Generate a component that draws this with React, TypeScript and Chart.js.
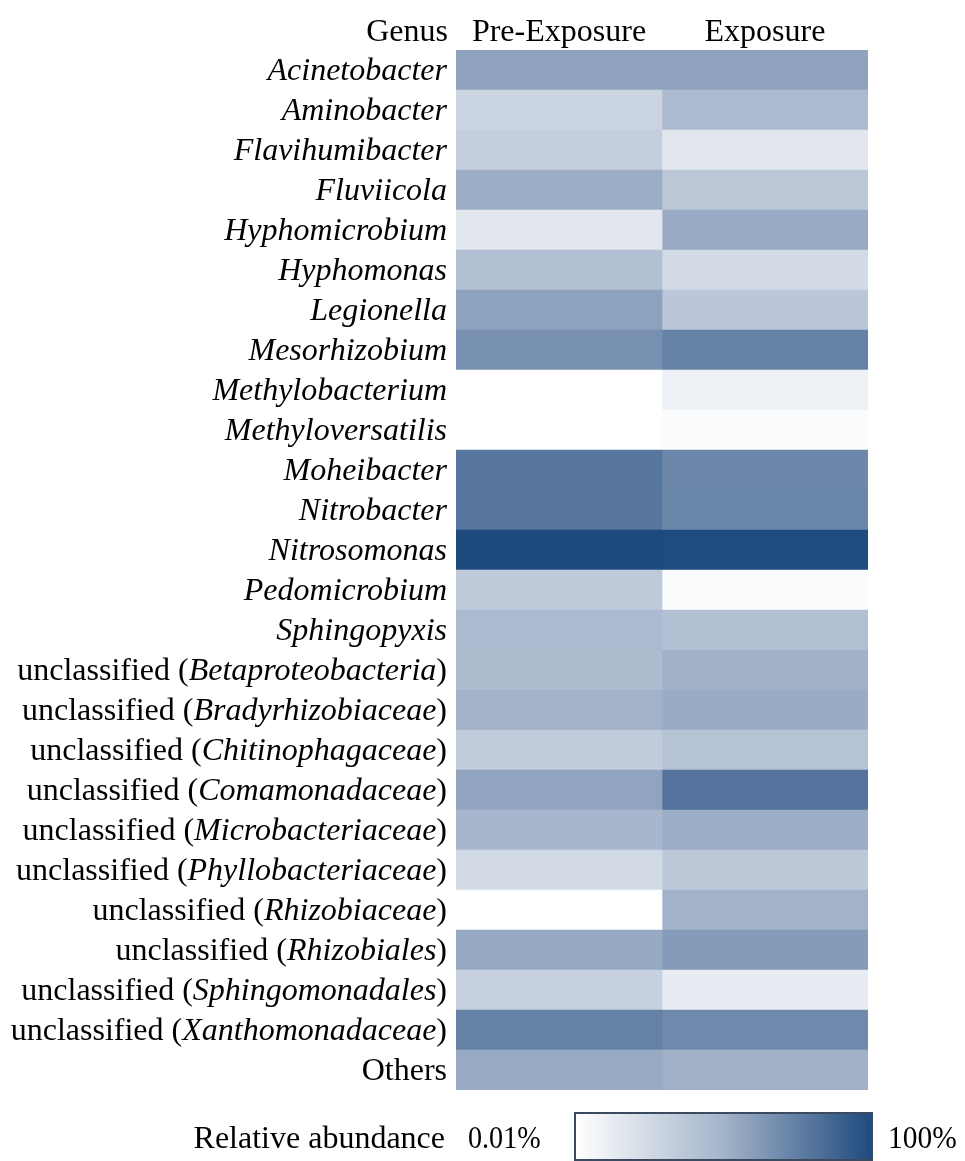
import { useEffect, useRef } from "react";
import { Chart, registerables } from "chart.js";

Chart.register(...registerables);

// ---- data ----
const headerLabel = "Genus";
const columns = ["Pre-Exposure", "Exposure"];
const genera = [
  "Acinetobacter",
  "Aminobacter",
  "Flavihumibacter",
  "Fluviicola",
  "Hyphomicrobium",
  "Hyphomonas",
  "Legionella",
  "Mesorhizobium",
  "Methylobacterium",
  "Methyloversatilis",
  "Moheibacter",
  "Nitrobacter",
  "Nitrosomonas",
  "Pedomicrobium",
  "Sphingopyxis",
  "unclassified (Betaproteobacteria)",
  "unclassified (Bradyrhizobiaceae)",
  "unclassified (Chitinophagaceae)",
  "unclassified (Comamonadaceae)",
  "unclassified (Microbacteriaceae)",
  "unclassified (Phyllobacteriaceae)",
  "unclassified (Rhizobiaceae)",
  "unclassified (Rhizobiales)",
  "unclassified (Sphingomonadales)",
  "unclassified (Xanthomonadaceae)",
  "Others",
];
// relative abundance (%) — log colour scale from 0.01% to 100%
const preExposure = [
  2.0, 0.136, 0.19, 1.28, 0.043, 0.45, 2.15, 4.66, 0.01, 0.01, 13.8, 14.5, 100,
  0.25, 0.61, 0.575, 1.04, 0.233, 1.94, 0.82, 0.095, 0.01, 1.51, 0.174, 8.71, 1.47,
];
const exposure = [
  2.0, 0.61, 0.043, 0.286, 1.47, 0.095, 0.3, 8.39, 0.0233, 0.0122, 6.92, 7.24, 95.5,
  0.0122, 0.45, 1.11, 1.37, 0.387, 16.3, 1.28, 0.273, 1.04, 2.86, 0.0316, 5.92, 1.11,
];
const scaleMinLabel = "0.01%";
const scaleMaxLabel = "100%";
const scaleTitle = "Relative abundance";
const scaleMin = 0.01;
const scaleMax = 100;

// ---- colour mapping ----
const stops: [number, number[]][] = [
  [0, [255, 255, 255]],
  [0.5, [163, 179, 202]],
  [1, [31, 74, 126]],
];
function colorAt(t: number) {
  t = Math.max(0, Math.min(1, t));
  for (let i = 1; i < stops.length; i++) {
    const [t1, c1] = stops[i];
    const [t0, c0] = stops[i - 1];
    if (t <= t1) {
      const u = (t - t0) / (t1 - t0);
      const c = c0.map((v, k) => Math.round(v + (c1[k] - v) * u));
      return `rgb(${c[0]},${c[1]},${c[2]})`;
    }
  }
  const c = stops[stops.length - 1][1];
  return `rgb(${c[0]},${c[1]},${c[2]})`;
}
function colorFor(pct: number) {
  const t =
    (Math.log10(pct) - Math.log10(scaleMin)) /
    (Math.log10(scaleMax) - Math.log10(scaleMin));
  return colorAt(t);
}

const values = [preExposure, exposure];
const FONT_SIZE = 32;
const FAMILY = '"Liberation Serif", "Times New Roman", serif';

function splitLabel(label: string): { text: string; italic: boolean }[] {
  const m = label.match(/^(unclassified \()(.+)(\))$/);
  if (m) {
    return [
      { text: m[1], italic: false },
      { text: m[2], italic: true },
      { text: m[3], italic: false },
    ];
  }
  if (label === "Others") return [{ text: label, italic: false }];
  return [{ text: label, italic: true }];
}

const labelPlugin = {
  id: "heatLabels",
  afterDraw(chart: any) {
    const { ctx, chartArea } = chart;
    const x = chart.scales.x;
    const y = chart.scales.y;
    const font = (it: boolean) => `${it ? "italic " : ""}${FONT_SIZE}px ${FAMILY}`;
    ctx.save();
    ctx.fillStyle = "#000";
    ctx.textBaseline = "alphabetic";
    // header
    ctx.font = font(false);
    ctx.textAlign = "right";
    ctx.fillText(headerLabel, chartArea.left - 8, chartArea.top - 9);
    ctx.textAlign = "center";
    columns.forEach((c, j) => {
      ctx.fillText(c, x.getPixelForValue(j + 0.5), chartArea.top - 9);
    });
    // row labels
    ctx.textAlign = "left";
    genera.forEach((g, i) => {
      const parts = splitLabel(g);
      let total = 0;
      parts.forEach((p) => {
        ctx.font = font(p.italic);
        total += ctx.measureText(p.text).width;
      });
      let cx = chartArea.left - 9 - total;
      const cy = y.getPixelForValue(i) + 10;
      parts.forEach((p) => {
        ctx.font = font(p.italic);
        ctx.fillText(p.text, cx, cy);
        cx += ctx.measureText(p.text).width;
      });
    });
    // colour scale legend
    const barL = chartArea.left + 119;
    const barR = chartArea.right + 4;
    const barT = chartArea.bottom + 23;
    const barB = chartArea.bottom + 70;
    const grad = ctx.createLinearGradient(barL, 0, barR, 0);
    for (let k = 0; k <= 20; k++) grad.addColorStop(k / 20, colorAt(k / 20));
    ctx.fillStyle = grad;
    ctx.fillRect(barL, barT, barR - barL, barB - barT);
    ctx.strokeStyle = "#3b4a5e";
    ctx.lineWidth = 2;
    ctx.strokeRect(barL, barT, barR - barL, barB - barT);
    ctx.fillStyle = "#000";
    ctx.font = font(false);
    const ty = chartArea.bottom + 58;
    ctx.textAlign = "right";
    ctx.fillText(scaleTitle, chartArea.left - 11, ty);
    ctx.textAlign = "left";
    ctx.save();
    ctx.translate(chartArea.left + 12, ty);
    ctx.scale(0.88, 1);
    ctx.fillText(scaleMinLabel, 0, 0);
    ctx.restore();
    ctx.save();
    ctx.translate(barR + 16, ty);
    ctx.scale(0.92, 1);
    ctx.fillText(scaleMaxLabel, 0, 0);
    ctx.restore();
    ctx.restore();
  },
};

export default function App() {
  const ref = useRef<HTMLCanvasElement | null>(null);
  useEffect(() => {
    if (!ref.current) return;
    const chart = new Chart(ref.current, {
      type: "bar",
      data: {
        labels: genera,
        datasets: columns.map((c, j) => ({
          label: c,
          data: genera.map(() => [j, j + 1]) as any,
          backgroundColor: values[j].map(colorFor),
          borderWidth: 0,
          borderSkipped: false,
          barPercentage: 1,
          categoryPercentage: 1,
          grouped: false,
        })),
      },
      options: {
        indexAxis: "y",
        responsive: false,
        animation: false,
        devicePixelRatio: 1,
        layout: { padding: { left: 456, right: 97, top: 50, bottom: 71 } },
        scales: {
          x: { type: "linear", min: 0, max: columns.length, display: false },
          y: { type: "category", display: false, offset: true },
        },
        plugins: {
          legend: { display: false },
          tooltip: { enabled: false },
        },
      },
      plugins: [labelPlugin],
    });
    return () => chart.destroy();
  }, []);
  return (
    <div style={{ position: "absolute", left: 0, top: 0, width: 965, height: 1161, background: "#fff" }}>
      <canvas ref={ref} width={965} height={1161} style={{ display: "block" }} />
    </div>
  );
}
